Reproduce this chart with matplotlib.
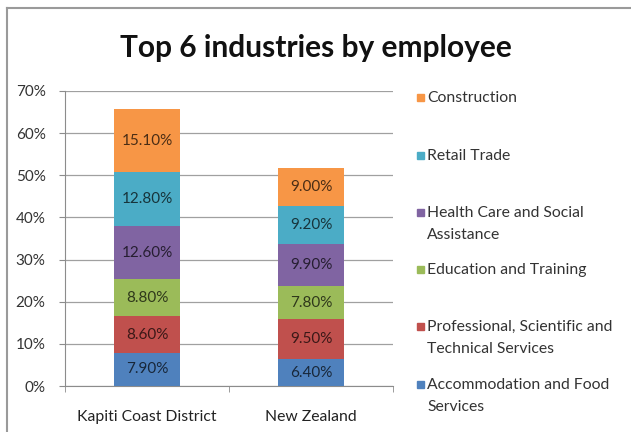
import matplotlib.pyplot as plt
import matplotlib.colors as mcolors
from matplotlib.lines import Line2D
from matplotlib.patches import Rectangle

plt.rcParams['font.family'] = ['Lato', 'DejaVu Sans']

regions = ['Kapiti Coast District', 'New Zealand']
industries = ['Accommodation and Food\nServices',
              'Professional, Scientific and\nTechnical Services',
              'Education and Training',
              'Health Care and Social\nAssistance',
              'Retail Trade',
              'Construction']
kapiti = [7.9, 8.6, 8.8, 12.6, 12.8, 15.1]
new_zealand = [6.4, 9.5, 7.8, 9.9, 9.2, 9.0]
colors = ['#4F81BD', '#C0504D', '#9BBB59', '#8064A2', '#4BACC6', '#F79646']

W, H = 631, 432
fig = plt.figure(figsize=(W / 100, H / 100), dpi=100)


def fx(px):
    return px / W


def fy(py):
    return 1 - py / H


# outer chart border
fig.add_artist(Line2D([fx(7), fx(7)], [fy(8), 0], color='#9a9a9a', lw=1.5))
fig.add_artist(Line2D([fx(7), 1], [fy(8), fy(8)], color='#9a9a9a', lw=1.5))

ax = fig.add_axes([fx(65), fy(386), fx(393) - fx(65), fy(91) - fy(386)])

values = [kapiti, new_zealand]
x = [0, 1]
bottoms = [0.0, 0.0]
for i, name in enumerate(industries):
    heights = [v[i] / 100 for v in values]
    ax.bar(x, heights, bottom=bottoms, width=0.4, color=colors[i], zorder=3)
    dark = tuple(c * 0.3 for c in mcolors.to_rgb(colors[i]))
    for j in range(2):
        ax.text(x[j], bottoms[j] + heights[j] / 2, f'{values[j][i]:.2f}%',
                ha='center', va='center', fontsize=11, color=dark, zorder=4)
    bottoms = [b + h for b, h in zip(bottoms, heights)]

ax.set_xlim(-0.5, 1.5)
ax.set_ylim(0, 0.7)
ax.set_yticks([k / 10 for k in range(8)])
ax.set_yticklabels([f'{k * 10}%' for k in range(8)], fontsize=11, color='#333333')
ax.yaxis.grid(True, color='#a0a0a0', lw=0.9, zorder=0)
ax.set_xticks(x)
ax.set_xticklabels(regions, fontsize=11.3, color='#222222')
ax.tick_params(axis='x', length=0, pad=17)
ax.tick_params(axis='y', length=4, color='#8c8c8c', pad=10)
ax.set_xticks([-0.5, 0.5, 1.5], minor=True)
ax.tick_params(axis='x', which='minor', length=4, color='#8c8c8c')
for side in ['top', 'right']:
    ax.spines[side].set_visible(False)
ax.spines['left'].set_color('#8c8c8c')
ax.spines['bottom'].set_color('#8c8c8c')

fig.text(fx(316), fy(48), 'Top 6 industries by employee', ha='center', va='center',
         fontsize=21.5, fontweight='bold', color='#111111')

# legend, top to bottom
legend_y = [97, 155, 212, 269, 326, 384]
for i, name in enumerate(reversed(industries)):
    c = colors[len(colors) - 1 - i]
    y = legend_y[i]
    fig.add_artist(Rectangle((fx(417), fy(y + 3.5)), fx(7), 7 / H,
                             color=c, transform=fig.transFigure))
    fig.text(fx(427), fy(y - 6), name, ha='left', va='top', fontsize=11.3,
             color='#333333', linespacing=1.75)

fig.savefig('out.png', dpi=100)
